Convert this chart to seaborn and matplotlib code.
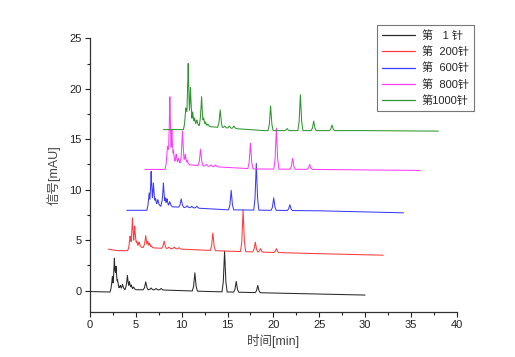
import numpy as np
import pandas as pd
import matplotlib
matplotlib.use("Agg")
import matplotlib.pyplot as plt
from matplotlib.ticker import MultipleLocator
import seaborn as sns

# ---------------- data ----------------
labels = ["第   1 针", "第  200针", "第  600针", "第  800针", "第1000针"]

# baseline control points (time [min], signal [mAU])
black_base_t = [0, 2.2, 3.0, 8, 13, 20, 30]
black_base_y = [-0.1, -0.15, 0.1, 0.05, -0.1, -0.25, -0.45]
black_peak_t = [2.44, 2.66, 2.84, 3.0, 3.3, 3.55, 4.08, 4.3, 4.5, 4.75, 6.08, 6.66, 7.2, 7.76, 11.44, 14.68, 15.95, 18.3]
black_peak_y = [1.4, 3.2, 2.4, 1.1, 0.5, 0.6, 1.5, 0.9, 0.55, 0.35, 0.86, 0.25, 0.2, 0.2, 1.75, 3.9, 0.9, 0.5]

red_base_t = [2, 3, 4.2, 5, 10, 15, 25, 32]
red_base_y = [4.1, 3.95, 3.95, 4.3, 4.1, 3.9, 3.65, 3.5]
red_peak_t = [4.37, 4.63, 4.88, 5.1, 5.35, 6.08, 6.3, 6.5, 6.7, 8.09, 8.6, 9.2, 9.7, 13.4, 16.7, 18.03, 18.6, 20.33]
red_peak_y = [5.4, 7.2, 6.4, 4.9, 4.8, 5.45, 4.9, 4.7, 4.4, 4.9, 4.3, 4.3, 4.25, 5.7, 8.0, 4.8, 4.15, 4.15]

blue_base_t = [4, 6.2, 7, 11, 15, 25, 34.2]
blue_base_y = [7.95, 7.95, 8.4, 8.2, 8.0, 7.9, 7.7]
blue_peak_t = [6.45, 6.67, 6.92, 7.15, 7.4, 8.01, 8.2, 8.4, 8.7, 9.95, 10.6, 11.1, 11.65, 15.4, 18.14, 20.04, 21.8]
blue_peak_y = [9.67, 11.8, 10.66, 9.1, 9.0, 10.66, 9.2, 9.1, 8.8, 9.08, 8.4, 8.35, 8.35, 9.93, 12.6, 9.18, 8.5]

magenta_base_t = [6, 8.2, 9, 13, 18, 25, 36]
magenta_base_y = [12.0, 12.0, 12.6, 12.3, 12.05, 12.0, 11.9]
magenta_peak_t = [8.45, 8.71, 8.93, 9.1, 9.4, 9.65, 10.09, 10.4, 10.6, 12.06, 12.7, 13.2, 13.7, 17.5, 20.33, 22.1, 23.97]
magenta_peak_y = [14.3, 19.2, 15.9, 13.9, 13.5, 13.1, 15.8, 13.5, 12.9, 14.0, 12.5, 12.45, 12.45, 14.6, 16.1, 13.1, 12.5]

green_base_t = [8, 10.2, 11, 15, 19, 30, 38]
green_base_y = [15.95, 15.95, 16.4, 16.1, 15.85, 15.85, 15.8]
green_peak_t = [10.45, 10.71, 10.96, 11.2, 11.4, 11.65, 12.17, 12.4, 12.6, 12.85, 14.2, 14.7, 15.2, 15.7, 19.7, 21.5, 22.95, 24.4, 26.4]
green_peak_y = [18.1, 22.5, 20.1, 17.7, 17.1, 16.9, 19.2, 17.1, 16.7, 16.5, 17.9, 16.3, 16.3, 16.3, 18.3, 16.05, 19.4, 16.8, 16.4]

colors = ["#2a2a2a", "#ff3b3b", "#3b3bff", "#ff3bff", "#2e962e"]

traces = [
    (black_base_t, black_base_y, black_peak_t, black_peak_y),
    (red_base_t, red_base_y, red_peak_t, red_peak_y),
    (blue_base_t, blue_base_y, blue_peak_t, blue_peak_y),
    (magenta_base_t, magenta_base_y, magenta_peak_t, magenta_peak_y),
    (green_base_t, green_base_y, green_peak_t, green_peak_y),
]

HW = 0.28  # drawing half-width of a peak (style)


def build_trace(bt, by, pt, py):
    bt = np.asarray(bt, float)
    by = np.asarray(by, float)
    pt = np.asarray(pt, float)
    py = np.asarray(py, float)
    xs = np.concatenate([bt, pt - HW, pt - HW / 2, pt, pt + HW / 2, pt + HW])
    xs = np.unique(xs[(xs >= bt[0]) & (xs <= bt[-1])])
    base = np.interp(xs, bt, by)
    heights = py - np.interp(pt, bt, by)
    shape = np.zeros((len(pt), len(xs)))
    for i, (t, h) in enumerate(zip(pt, heights)):
        d = np.clip(np.abs(xs - t) / HW, 0, 1)
        shape[i] = h * (1 - d) ** 2
    return xs, base + shape.max(axis=0)


frames = []
for lab, (bt, by, pt, py) in zip(labels, traces):
    x, y = build_trace(bt, by, pt, py)
    frames.append(pd.DataFrame({"time": x, "signal": y, "run": lab}))
df = pd.concat(frames, ignore_index=True)

# ---------------- plotting ----------------
sns.set_style("ticks")
plt.rcParams["font.family"] = ["Liberation Sans", "Noto Sans CJK SC"]
plt.rcParams["axes.unicode_minus"] = False

fig = plt.figure(figsize=(5.15, 3.57), dpi=100)
ax = fig.add_axes([90 / 515, 1 - 311.7 / 357, (456.7 - 90) / 515, (311.7 - 38.3) / 357])

for lab, col in zip(labels, colors):
    sub = df[df["run"] == lab]
    sns.lineplot(data=sub, x="time", y="signal", ax=ax, color=col, lw=0.75,
                 label=lab, estimator=None, sort=False)

ax.set_xlim(0, 40)
ax.set_ylim(-2.1, 25)
ax.xaxis.set_major_locator(MultipleLocator(5))
ax.xaxis.set_minor_locator(MultipleLocator(2.5))
ax.yaxis.set_major_locator(MultipleLocator(5))
ax.yaxis.set_minor_locator(MultipleLocator(2.5))
ax.tick_params(which="major", direction="out", length=3.5, width=0.8, labelsize=8, colors="#222222", pad=2.5)
ax.tick_params(which="minor", direction="out", length=2, width=0.8, colors="#222222")
for s in ["top", "right"]:
    ax.spines[s].set_visible(False)
for s in ["left", "bottom"]:
    ax.spines[s].set_linewidth(0.9)
    ax.spines[s].set_color("#333333")

ax.set_xlabel("时间[min]", fontsize=9, color="#444444", labelpad=3)
ax.set_ylabel("信号[mAU]", fontsize=9, color="#444444", labelpad=6)

leg = ax.legend(loc="upper left", bbox_to_anchor=(377 / 515, 1 - 25 / 357),
                bbox_transform=fig.transFigure, borderaxespad=0, fontsize=8,
                frameon=True, fancybox=False, handlelength=3.0, handletextpad=0.6,
                labelspacing=0.5, borderpad=0.45)
leg.get_frame().set_edgecolor("#555555")
leg.get_frame().set_linewidth(0.8)
for line in leg.get_lines():
    line.set_linewidth(0.9)

fig.savefig("out.png", dpi=100)
